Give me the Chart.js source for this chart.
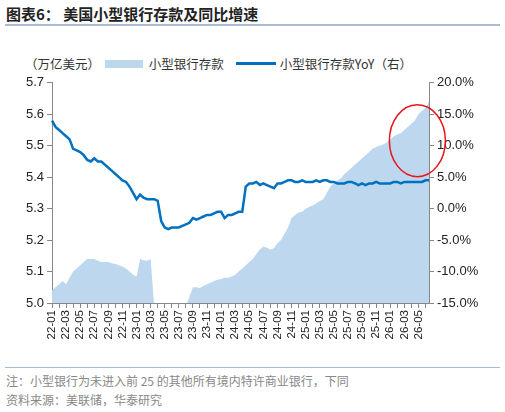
<!DOCTYPE html>
<html><head><meta charset="utf-8">
<script src="https://cdn.jsdelivr.net/npm/chart.js@4"></script>
<style>
body{margin:0;width:505px;height:412px;background:#fff;font-family:"Noto Sans CJK SC",sans-serif;position:relative;overflow:hidden}
#title{position:absolute;left:6px;top:3px;font-size:15px;font-weight:bold;color:#222}
#hr1{position:absolute;left:5px;top:24px;width:495px;height:2px;background:#a9bcd6}
#legend{position:absolute;left:25px;top:52px;font-size:12.5px;color:#333;white-space:nowrap}
#legend span{display:inline-block;vertical-align:middle}
#wrap{position:absolute;left:0;top:72px;width:505px;height:290px}
#hr2{position:absolute;left:5px;top:367px;width:495px;height:1px;background:#a9bcd6}
.note{position:absolute;left:6px;font-size:12px;color:#888}
</style></head><body>
<div id="title">图表6：&nbsp;美国小型银行存款及同比增速</div>
<div id="hr1"></div>
<div id="legend"><span>（万亿美元）</span> <span style="width:38px;height:8px;background:#bdd7ee;margin:0 6px 0 2px"></span><span>小型银行存款</span><span style="width:40px;height:3px;background:#0070c0;margin:0 4px 0 12px"></span><span>小型银行存款YoY（右）</span></div>
<div id="wrap"><canvas id="c" width="505" height="290"></canvas></div>
<div id="hr2"></div>
<div class="note" style="top:372px">注：小型银行为未进入前 25 的其他所有境内特许商业银行，下同</div>
<div class="note" style="top:391px">资料来源：美联储，华泰研究</div>
<script>
const months=[];for(let y=22;y<=26;y++)for(let m=1;m<=12;m++){if(y===26&&m>6)break;months.push(y+'-'+String(m).padStart(2,'0'));}
const categories=[];months.forEach(m=>{categories.push(m);categories.push(m);});
// left axis line (semi-monthly)
const depositLine=[5.58,5.56,5.55,5.54,5.53,5.52,5.49,5.485,5.48,5.47,5.455,5.45,5.46,5.45,5.45,5.44,5.43,5.42,5.41,5.40,5.39,5.385,5.37,5.35,5.33,5.345,5.335,5.33,5.33,5.33,5.325,5.26,5.24,5.235,5.24,5.24,5.24,5.245,5.25,5.255,5.27,5.265,5.27,5.275,5.28,5.28,5.285,5.29,5.29,5.27,5.28,5.28,5.285,5.29,5.29,5.37,5.38,5.38,5.385,5.375,5.38,5.375,5.37,5.365,5.38,5.38,5.385,5.39,5.39,5.385,5.385,5.39,5.385,5.385,5.385,5.39,5.385,5.39,5.39,5.385,5.385,5.38,5.38,5.38,5.385,5.385,5.38,5.375,5.38,5.375,5.38,5.38,5.385,5.38,5.38,5.38,5.38,5.385,5.385,5.38,5.385,5.385,5.385,5.385,5.385,5.385,5.39,5.39];
// right axis area (%)
const yoyArea=[-13,-12.5,-12,-11.5,-12,-11,-10,-9.5,-9,-8.5,-8,-8,-8,-8.3,-8.5,-8.5,-8.5,-8.7,-8.8,-9,-9.2,-9.5,-10,-10.5,-10.8,-8,-8.2,-8.3,-8,-15.5,-15.5,-15.5,-15.5,-15.5,-15.5,-15.5,-15.5,-15.5,-15.5,-14,-12.5,-12.5,-12.6,-12.3,-12,-11.8,-11.5,-11.3,-11.2,-11,-11,-10.8,-10.5,-10,-9.5,-9,-8.5,-8,-7.2,-6.5,-6,-6.2,-6.5,-6.3,-5.5,-5,-4,-3,-1.5,-1,-0.6,-0.5,0,0.3,0.5,0.8,1.2,1.5,2.5,3.5,4,4.5,4.8,5.5,6,6.5,7,7.5,8,8.5,9,9.5,9.8,10,10.2,10.5,11,11.5,11.8,12,12.5,13,13.5,14,15,15.5,16,17];
const leftTicks=[5.0,5.1,5.2,5.3,5.4,5.5,5.6,5.7];
const rightTicks=[-15,-10,-5,0,5,10,15,20];
const ellipse={
 id:'ell',afterDraw(ch){const x=ch.scales.x,y=ch.scales.y1,c=ch.ctx;
  const cx=(x.getPixelForValue(97)+x.getPixelForValue(107))/2+6,cy=y.getPixelForValue(10.8);
  c.save();c.strokeStyle='#e8141a';c.lineWidth=1.5;c.beginPath();c.ellipse(cx,cy,28,36,0,0,Math.PI*2);c.stroke();c.restore();}
};
new Chart(document.getElementById('c'),{
 data:{labels:categories,datasets:[
  {type:'line',label:'小型银行存款YoY（右）',data:depositLine,yAxisID:'y',borderColor:'#0070c0',borderWidth:2.5,pointRadius:0,tension:0,order:0},
  {type:'line',label:'小型银行存款',data:yoyArea,yAxisID:'y1',fill:'start',backgroundColor:'#bdd7ee',borderWidth:0,pointRadius:0,tension:0,order:1}
 ]},
 options:{responsive:false,animation:false,layout:{padding:{top:10,left:0,right:0,bottom:0}},
  plugins:{legend:{display:false},tooltip:{enabled:false}},
  scales:{
   x:{offset:false,grid:{display:true,drawOnChartArea:false,tickLength:5,color:(c)=>c.index%2===0?'#888':'rgba(0,0,0,0)'},border:{color:'#888'},
      ticks:{autoSkip:false,maxRotation:90,minRotation:90,font:{size:11.5,family:'Liberation Sans'},color:'#222',padding:2,
      callback:(v,i)=>i%4===0?categories[i]:''},afterFit:s=>{s.height=59;}},
   y:{position:'left',min:5.0,max:5.7,afterBuildTicks:s=>{s.ticks=leftTicks.map(v=>({value:v}));},
      grid:{drawOnChartArea:false,tickLength:5,color:'#888'},border:{color:'#888'},
      ticks:{font:{size:13,family:'Liberation Sans'},color:'#222',callback:v=>v.toFixed(1)},afterFit:s=>{s.width=52;}},
   y1:{position:'right',min:-15,max:20,afterBuildTicks:s=>{s.ticks=rightTicks.map(v=>({value:v}));},
      grid:{drawOnChartArea:false,tickLength:5,color:'#888'},border:{color:'#888'},
      ticks:{font:{size:13,family:'Liberation Sans'},color:'#222',callback:v=>v.toFixed(1)+'%'},afterFit:s=>{s.width=76;}}
  }},
 plugins:[ellipse]
});
</script></body></html>
